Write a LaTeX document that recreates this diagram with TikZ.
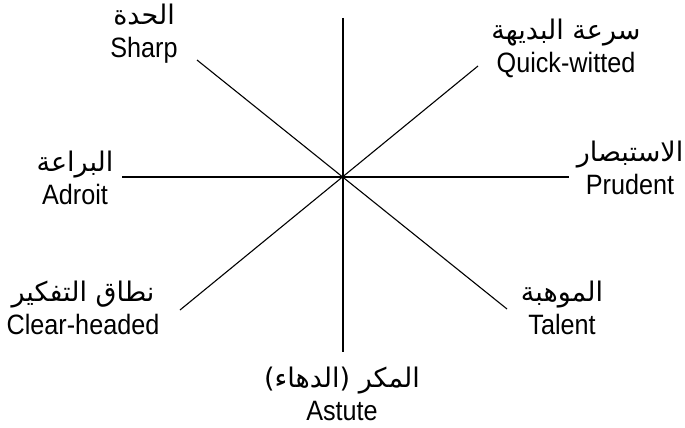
\documentclass[tikz,border=0pt]{standalone}
\usepackage{fontspec}
\setmainfont{Liberation Sans}[FakeStretch=0.9]
\newfontfamily\arabicfont[Script=Arabic]{DejaVu Sans}
\TeXXeTstate=1
\usetikzlibrary{positioning}
\newcommand{\ar}[1]{{\arabicfont\fontsize{27}{33}\selectfont\beginR #1\endR}}
\tikzset{
  spoke/.style={line width=1.1pt, black},
  trait/.style={align=center, inner sep=0pt, font=\fontsize{28}{33}\selectfont},
}

\begin{document}
\begin{tikzpicture}[x=1pt, y=-1pt]
  \useasboundingbox (0,0) rectangle (685,428);
  % centre and the ends of the eight spokes
  \coordinate (O) at (343,177);
  \coordinate (N) at (343,18);
  \coordinate (S) at (343,352);
  \coordinate (W) at (122,177);
  \coordinate (E) at (569,177);
  \coordinate (NW) at (197,60);
  \coordinate (SE) at (507,309);
  \coordinate (NE) at (478,66);
  \coordinate (SW) at (180,310);
  \draw[spoke] (N) -- (S);
  \draw[spoke] (W) -- (E);
  \draw[spoke] (NW) -- (SE);
  \draw[spoke] (SW) -- (NE);
  % labels
  \node[trait] (sharp) at (144,34) {\ar{الحدة}\\Sharp};
  \node[trait] (quick) at (566,48) {\ar{سرعة البديهة}\\Quick-witted};
  \node[trait] (prudent) at (630,168) {\ar{الاستبصار}\\Prudent};
  \node[trait] (adroit) at (75,178) {\ar{البراعة}\\Adroit};
  \node[trait] (clear) at (83,308) {\ar{نطاق التفكير}\\Clear-headed};
  \node[trait] (talent) at (562,308) {\ar{الموهبة}\\Talent};
  \node[trait] (astute) at (342,394) {\ar{المكر (الدهاء)}\\Astute};
\end{tikzpicture}
\end{document}
